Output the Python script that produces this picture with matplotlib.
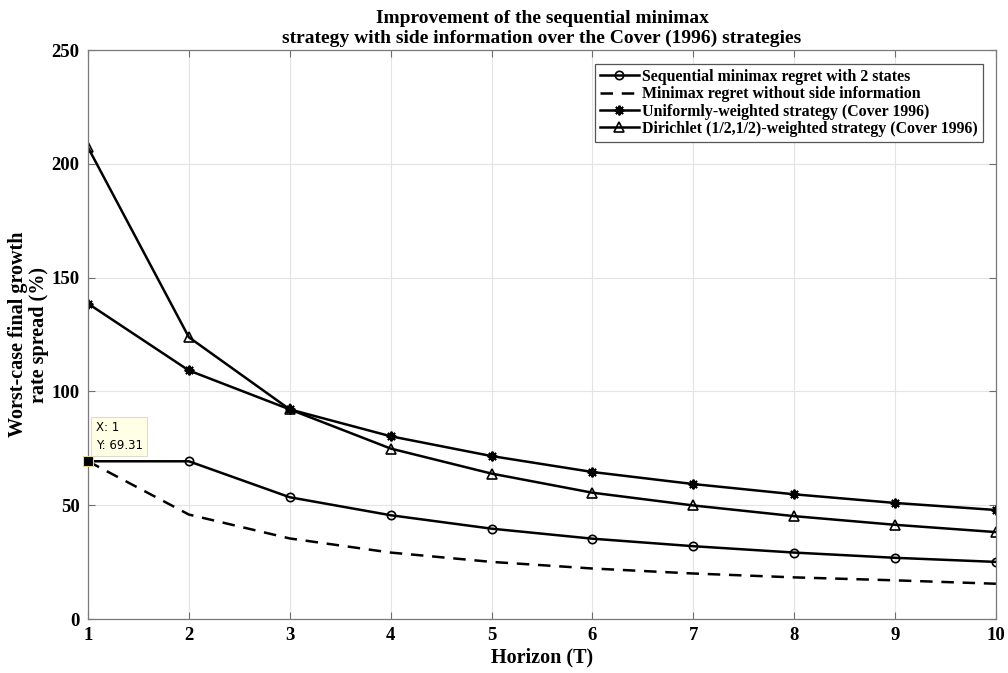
import matplotlib
matplotlib.use('Agg')
import matplotlib.pyplot as plt

horizon = [1, 2, 3, 4, 5, 6, 7, 8, 9, 10]
seq_minimax = [69.31, 69.3, 53.5, 45.6, 39.7, 35.3, 32.0, 29.2, 26.9, 25.1]
no_side_info = [69.31, 45.9, 35.4, 29.2, 25.1, 22.2, 20.0, 18.3, 17.0, 15.5]
uniform = [138.6, 109.2, 92.1, 80.3, 71.6, 64.6, 59.3, 54.8, 51.0, 47.9]
dirichlet = [207.2, 123.8, 92.1, 74.9, 63.9, 55.5, 49.9, 45.2, 41.4, 38.2]

labels = ['Sequential minimax regret with 2 states',
          'Minimax regret without side information',
          'Uniformly-weighted strategy (Cover 1996)',
          'Dirichlet (1/2,1/2)-weighted strategy (Cover 1996)']

plt.rcParams['font.family'] = ['Liberation Serif', 'DejaVu Serif']
plt.rcParams['font.weight'] = 'bold'

fig = plt.figure(figsize=(10.08, 6.73), dpi=100)
ax = fig.add_axes([0.0873, 0.0802, 0.9007, 0.8455])

lw = 1.8
ax.plot(horizon, seq_minimax, color='black', lw=lw, marker='o', ms=6,
        mfc='none', mew=1.2, label=labels[0])
ax.plot(horizon, no_side_info, color='black', lw=lw, ls=(0, (5, 3.5)),
        label=labels[1])
ax.plot(horizon, uniform, color='black', lw=lw, marker=(8, 2, 0), ms=7,
        mew=1.4, label=labels[2])
ax.plot(horizon, dirichlet, color='black', lw=lw, marker='^', ms=6.5,
        mfc='none', mew=1.2, label=labels[3])

# data tip like in the original figure
ax.plot([horizon[0]], [seq_minimax[0]], marker='s', ms=7, color='black',
        mec='#e8d890', mew=0.8, zorder=5, clip_on=False)
ax.text(1.075, 80.2, 'X: 1\nY: 69.31', family='DejaVu Sans', fontweight='normal',
        fontsize=8.5, va='center', ha='left', linespacing=1.5,
        bbox=dict(boxstyle='square,pad=0.35', fc='#ffffe6', ec='#dcdcc8', lw=0.8),
        zorder=6)

ax.set_xlim(1, 10)
ax.set_ylim(0, 250)
ax.set_xticks(horizon)
ax.set_yticks([0, 50, 100, 150, 200, 250])
ax.grid(True, color='#e3e3e3', lw=0.8)
ax.set_axisbelow(True)
ax.tick_params(direction='in', top=True, right=True, length=5, width=0.8,
               color='#6e6e6e', labelsize=13.5, pad=6)
for s in ax.spines.values():
    s.set_color('#7a7a7a')
    s.set_linewidth(0.9)

ax.set_xlabel('Horizon (T)', fontsize=14.5, fontweight='bold', labelpad=2)
ax.set_ylabel('Worst-case final growth\nrate spread (%)', fontsize=14.5,
              fontweight='bold', labelpad=2, linespacing=1.05)
ax.set_title('Improvement of the sequential minimax\n'
             'strategy with side information over the Cover (1996) strategies',
             fontsize=14, fontweight='bold', pad=5)

leg = ax.legend(loc='upper right', bbox_to_anchor=(0.9857, 0.975), fontsize=11.4,
                handlelength=2.5, handletextpad=0.2, borderpad=0.3,
                labelspacing=0.08, fancybox=False, framealpha=1,
                edgecolor='#555555', borderaxespad=0)
leg.get_frame().set_linewidth(0.9)

fig.savefig('out.png', dpi=100)
